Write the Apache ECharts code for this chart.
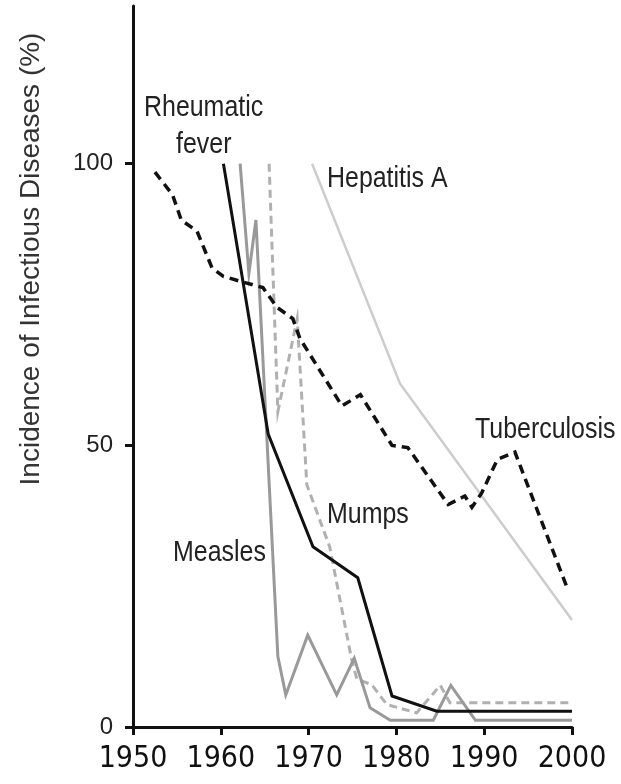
<!DOCTYPE html>
<html>
<head>
<meta charset="utf-8">
<script src="https://cdn.jsdelivr.net/npm/echarts@6/dist/echarts.min.js"></script>
<style>
html,body{margin:0;padding:0;background:#fff;}
#chart{width:621px;height:784px;}
</style>
</head>
<body>
<div id="chart"></div>
<script>
// ---- data ----
const tbYears   = [1952.5,1954.5,1955.5,1957.3,1959,1960.3,1962.5,1964.8,1966.4,1968.2,1969,1973.8,1975.9,1979.5,1981.3,1985.9,1987.8,1988.6,1989.7,1991.5,1993.5,1999.5];
const tbValues  = [98.5,94.5,90,88,81.5,80,79,78,74.5,72.5,69,57,59,50,49.6,39.5,41,39,41.5,47.5,48.8,24.5];

const rfYears   = [1960.3,1965.4,1970.5,1975.6,1979.5,1984.6,2000];
const rfValues  = [100,52,32,26.5,5.5,2.8,2.8];

const meYears   = [1962.2,1963.2,1964,1966.5,1967.4,1969.9,1973.2,1975.2,1977,1979.3,1984.2,1986.2,1989,2000];
const meValues  = [100,80.5,90,12.5,5.7,16.3,5.7,12.2,3.4,1.2,1.2,7.4,1.2,1.2];

const muYears   = [1965.5,1966.5,1968.7,1969.8,1972.4,1974.9,1975.5,1977.2,1978.9,1982.3,1985,1986.1,2000];
const muValues  = [100,56,72.5,43,32,12,8.5,7.5,4,2.5,7.4,4.3,4.3];

const haYears   = [1970.4,1980.4,2000];
const haValues  = [100,61,19];

const xTicks = [1950,1960,1970,1980,1990,2000];
const yTicks = [0,50,100];

const seriesNames = ['Hepatitis A','Tuberculosis','Rheumatic fever','Measles','Mumps'];
const yTitle = 'Incidence of Infectious Diseases (%)';

function pairs(xs, ys){ return xs.map((x,i)=>[x, ys[i]]); }

const condensed = '"DejaVu Sans Condensed","Liberation Sans Narrow",sans-serif';
const regular = '"Liberation Sans",Arial,sans-serif';

const chart = echarts.init(document.getElementById('chart'), null, {renderer:'canvas'});

function lineSeries(name, data, color, width, dash, z){
  return {
    name, type:'line', data, showSymbol:false, symbol:'none', z,
    lineStyle:{color, width, type: dash ? dash : 'solid', cap:'butt', join:'miter'},
    silent:true
  };
}

function note(text, x, y){
  return {type:'text', x, y, scaleX:0.86, scaleY:1,
    style:{text, x:0, y:0, font:'29px '+regular, fill:'#222', align:'left', verticalAlign:'middle'}};
}

const option = {
  animation:false,
  backgroundColor:'#ffffff',
  grid:{left:133, right:49, top:6, bottom:57, containLabel:false},
  xAxis:{
    type:'value', min:1950, max:2000, interval:10,
    axisLine:{show:true, lineStyle:{color:'#111', width:3}},
    axisTick:{show:true, length:8, inside:false, lineStyle:{color:'#111', width:3}},
    axisLabel:{show:true, margin:17, color:'#111', fontFamily:condensed, fontSize:30,
      customValues:xTicks, formatter:(v)=>String(v)},
    splitLine:{show:false}
  },
  yAxis:{
    type:'value', min:0, max:128,
    axisLine:{show:true, lineStyle:{color:'#111', width:3}},
    axisTick:{show:true, length:8, inside:false, customValues:yTicks, lineStyle:{color:'#111', width:3}},
    axisLabel:{show:true, margin:20, color:'#222', fontFamily:regular, fontSize:24,
      customValues:yTicks, formatter:(v)=>String(v)},
    splitLine:{show:false}
  },
  series:[
    lineSeries(seriesNames[0], pairs(haYears, haValues), '#cccccc', 2.5, null, 1),
    lineSeries(seriesNames[1], pairs(tbYears, tbValues), '#111111', 3.5, [9,6], 5),
    lineSeries(seriesNames[2], pairs(rfYears, rfValues), '#111111', 3, null, 4),
    lineSeries(seriesNames[3], pairs(meYears, meValues), '#999999', 3, null, 3),
    lineSeries(seriesNames[4], pairs(muYears, muValues), '#b0b0b0', 3, [8,5], 2)
  ],
  graphic:[
    {type:'text', x:31, y:259, rotation:Math.PI/2,
      style:{text:yTitle, font:'28px '+regular, fill:'#333', align:'center', verticalAlign:'middle'}},
    note('Rheumatic', 144, 108),
    note('fever', 176, 145),
    note('Hepatitis A', 327, 179),
    note('Tuberculosis', 475, 430),
    note('Mumps', 327, 515),
    note('Measles', 173, 553)
  ]
};
chart.setOption(option);
</script>
</body>
</html>
